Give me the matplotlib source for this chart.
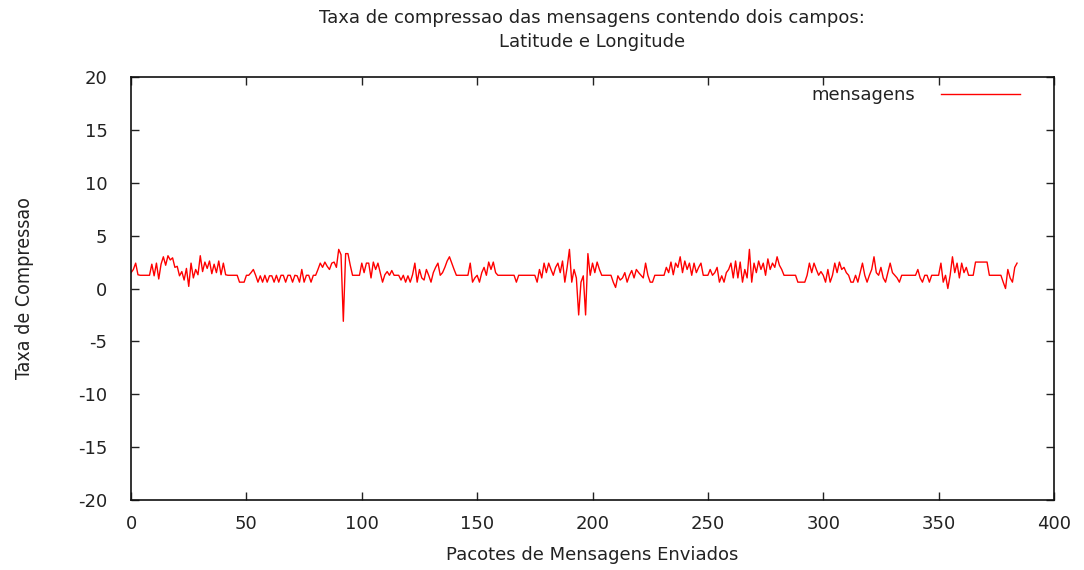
import numpy as np
import matplotlib
matplotlib.use("Agg")
import matplotlib.pyplot as plt

# compression ratio per message packet
taxa = [
    1.5, 1.8, 2.4, 1.3, 1.25, 1.25, 1.25, 1.25, 1.25, 2.3,
    1.2, 2.4, 0.9, 2.3, 3.0, 2.2, 3.1, 2.7, 2.9, 2.0,
    2.1, 1.2, 1.6, 0.8, 1.9, 0.2, 2.4, 1.0, 1.8, 1.3,
    3.1, 1.6, 2.5, 1.9, 2.6, 1.4, 2.3, 1.5, 2.6, 1.3,
    2.4, 1.3, 1.25, 1.25, 1.25, 1.25, 1.25, 0.6, 0.6, 0.6,
    1.25, 1.25, 1.5, 1.8, 1.25, 0.6, 1.2, 0.6, 1.25, 0.6,
    1.2, 1.2, 0.6, 1.25, 0.6, 1.25, 1.25, 0.6, 1.25, 1.25,
    0.6, 1.25, 1.2, 0.6, 1.8, 0.6, 1.25, 1.25, 0.6, 1.25,
    1.25, 1.8, 2.4, 2.0, 2.5, 2.1, 1.8, 2.4, 2.5, 2.0,
    3.7, 3.2, -3.1, 3.3, 3.3, 2.2, 1.25, 1.25, 1.25, 1.25,
    2.4, 1.5, 2.4, 2.4, 1.0, 2.5, 1.8, 2.4, 1.5, 0.6,
    1.3, 1.6, 1.25, 1.7, 1.25, 1.25, 1.25, 0.8, 1.25, 0.6,
    1.2, 0.6, 1.3, 2.4, 0.6, 1.8, 1.0, 0.8, 1.8, 1.25,
    0.6, 1.5, 2.0, 2.4, 1.25, 1.5, 2.0, 2.6, 3.0, 2.4,
    1.8, 1.25, 1.25, 1.25, 1.25, 1.25, 1.25, 2.4, 0.6, 1.0,
    1.25, 0.6, 1.5, 2.0, 1.25, 2.5, 1.8, 2.5, 1.5, 1.25,
    1.25, 1.25, 1.25, 1.25, 1.25, 1.25, 1.25, 0.6, 1.25, 1.25,
    1.25, 1.25, 1.25, 1.25, 1.25, 1.25, 0.6, 1.8, 1.0, 2.4,
    1.5, 2.4, 1.8, 1.25, 2.0, 2.4, 1.5, 2.6, 0.6, 2.0,
    3.7, 0.6, 1.8, 1.0, -2.5, 0.6, 1.2, -2.5, 3.3, 1.25,
    2.4, 1.5, 2.5, 1.8, 1.25, 1.25, 1.25, 1.25, 1.25, 0.6,
    0.1, 1.2, 0.8, 1.0, 1.5, 0.6, 1.25, 1.7, 1.0, 1.8,
    1.5, 1.25, 1.0, 2.4, 1.25, 0.6, 0.6, 1.25, 1.25, 1.25,
    1.25, 1.25, 2.0, 1.5, 2.5, 1.3, 2.4, 2.0, 3.0, 1.5,
    2.6, 1.8, 2.4, 1.25, 2.4, 1.5, 2.0, 2.4, 1.25, 1.25,
    1.25, 1.8, 1.25, 1.5, 2.0, 0.6, 1.2, 0.6, 1.5, 1.8,
    2.4, 1.0, 2.6, 1.0, 2.5, 0.6, 1.8, 1.0, 3.7, 0.6,
    2.4, 1.5, 2.6, 1.8, 2.4, 1.25, 2.8, 1.8, 2.4, 2.0,
    3.0, 2.2, 1.8, 1.25, 1.25, 1.25, 1.25, 1.25, 1.25, 0.6,
    0.6, 0.6, 0.6, 1.25, 2.4, 1.5, 2.4, 1.8, 1.25, 1.6,
    1.25, 0.6, 1.8, 0.6, 1.25, 2.4, 1.5, 2.5, 1.8, 2.0,
    1.5, 1.25, 0.6, 0.6, 1.25, 0.6, 1.5, 2.4, 1.25, 0.6,
    1.25, 1.8, 3.0, 1.5, 1.25, 2.0, 1.0, 0.6, 1.5, 2.4,
    1.5, 1.25, 1.0, 0.6, 1.25, 1.25, 1.25, 1.25, 1.25, 1.25,
    1.25, 1.8, 1.0, 0.6, 1.25, 1.25, 0.6, 1.25, 1.25, 1.25,
    1.25, 2.4, 0.6, 1.25, 0.0, 1.25, 3.0, 1.5, 2.4, 1.0,
    2.4, 1.5, 2.0, 1.25, 1.25, 1.25, 2.5, 2.5, 2.5, 2.5,
    2.5, 2.5, 1.25, 1.25, 1.25, 1.25, 1.25, 1.25, 0.6, 0.0,
    1.8, 1.0, 0.6, 2.0, 2.4,
]
pacotes = np.arange(len(taxa))

xticks = [0, 50, 100, 150, 200, 250, 300, 350, 400]
yticks = [-20, -15, -10, -5, 0, 5, 10, 15, 20]

plt.rcParams['font.family'] = ['DejaVu Sans']
plt.rcParams['axes.unicode_minus'] = False

fs = 13
fig = plt.figure(figsize=(10.84, 5.70), dpi=100)
ax = fig.add_axes([0.1209, 0.1228, 0.8514, 0.7421])

ax.plot(pacotes, taxa, color='#ff0000', linewidth=1.0, label='mensagens')

ax.set_xlim(0, 400)
ax.set_ylim(-20, 20)
ax.set_xticks(xticks)
ax.set_yticks(yticks)
ax.tick_params(direction='in', length=6, width=1, top=True, right=True,
               labelsize=fs, colors='#222222', pad=11)
ax.tick_params(axis='y', pad=17)
for s in ax.spines.values():
    s.set_linewidth(1.2)
    s.set_color('#111111')

fig.text(0.546, 0.947, "Taxa de compressao das mensagens contendo dois campos:\nLatitude e Longitude",
         ha='center', va='center', fontsize=fs, color='#222222', linespacing=1.45)
ax.set_xlabel("Pacotes de Mensagens Enviados", fontsize=fs, color='#222222', labelpad=9)
ax.set_ylabel("Taxa de Compressao", fontsize=14, fontstretch='condensed',
              family=['DejaVu Sans'], color='#222222', labelpad=32)

leg = ax.legend(loc='upper right', bbox_to_anchor=(0.971, 0.995), borderaxespad=0,
                frameon=False, fontsize=fs, markerfirst=False,
                handlelength=4.4, handletextpad=1.4)
for t in leg.get_texts():
    t.set_color('#222222')

fig.savefig("out.png", dpi=100)
